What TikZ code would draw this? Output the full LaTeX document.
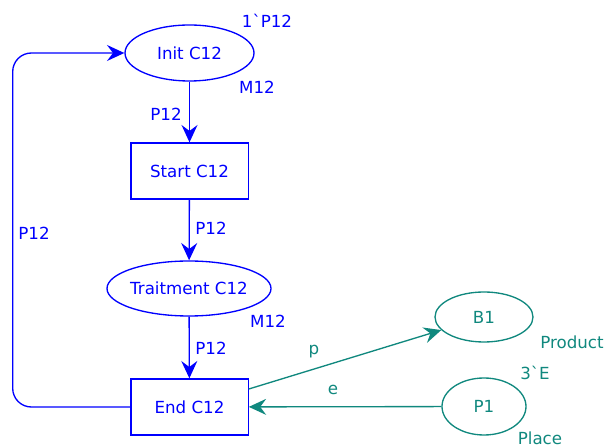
\documentclass[tikz,border=0pt]{standalone}
\usepackage{fontspec}
\setmainfont{DejaVu Sans}
\usetikzlibrary{shapes.geometric,arrows.meta}
\definecolor{pblue}{RGB}{0,0,255}
\definecolor{pteal}{RGB}{16,136,126}
\begin{document}
\begin{tikzpicture}[x=0.75pt,y=-0.75pt,
 every node/.style={font=\fontsize{12.5}{15}\selectfont},
 place/.style={ellipse,draw,line width=1pt,inner sep=0pt},
 trans/.style={rectangle,draw,line width=1pt,inner sep=0pt,minimum width=88pt,minimum height=42pt},
 arc/.style={line width=1pt,-{Stealth[length=13pt,width=12pt,inset=4.5pt]}},
 lbl/.style={inner sep=0pt}]
\useasboundingbox (0,0) rectangle (607,448);
\begin{scope}[pblue]
\node[place,minimum width=96.75pt,minimum height=42pt] (init) at (189.5,53) {\makebox[0pt]{Init C12}};
\node[trans] (start) at (189.5,171) {Start C12};
\node[place,minimum width=123pt,minimum height=41.25pt] (trait) at (189,288.5) {\makebox[0pt]{Traitment C12}};
\node[trans] (end) at (189.5,407) {End C12};
\node[lbl] (l1) at (267,21) {1ˋP12};
\node[lbl] (l2) at (257,87) {M12};
\node[lbl] (l3) at (166,114) {P12};
\node[lbl] (l4) at (211,228) {P12};
\node[lbl] (l5) at (268,321) {M12};
\node[lbl] (l6) at (211,348) {P12};
\node[lbl] (l7) at (34,233) {P12};
\draw[arc] (init) -- (start);
\draw[arc] (start) -- (trait);
\draw[arc] (trait) -- (end);
\draw[arc,rounded corners=14pt] (end.west) -| (12.7,53) -- (init.west);
\end{scope}
\begin{scope}[pteal]
\node[place,minimum width=73.5pt,minimum height=37.5pt] (b1) at (484,317) {\makebox[0pt]{B1}};
\node[place,minimum width=63pt,minimum height=42.75pt] (p1) at (484,406.5) {\makebox[0pt]{P1}};
\node[lbl] (l8) at (572,342) {Product};
\node[lbl] (l9) at (535,373) {3ˋE};
\node[lbl] (l10) at (540,438) {Place};
\node[lbl] (l11) at (314,352) {p};
\node[lbl] (l12) at (333,390) {e};
\draw[arc] ([yshift=13.5pt]end.east) -- (b1);
\draw[arc] (p1) -- (end);
\end{scope}
\end{tikzpicture}
\end{document}
